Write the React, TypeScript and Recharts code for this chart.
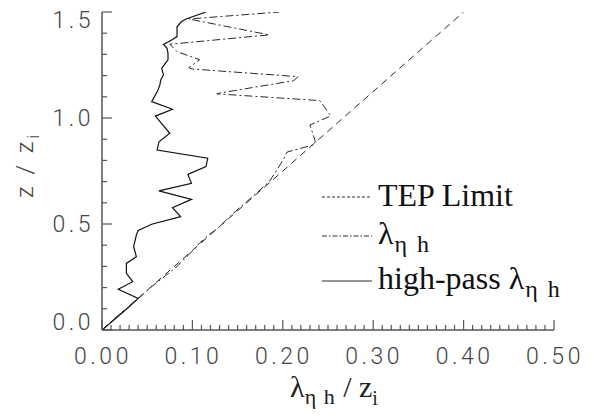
import React from 'react';
import { ComposedChart, Line, XAxis, YAxis, Label } from 'recharts';

// TEP limit line
const tepX = [0, 0.4];
const tepZ = [0, 1.5];

// lambda_eta_h (dash-dot)
const lamX = [0, 0.022, 0.03, 0.042, 0.055, 0.07, 0.083, 0.096, 0.108, 0.118, 0.128, 0.145, 0.16, 0.172, 0.185, 0.192, 0.2, 0.205, 0.234, 0.236, 0.23, 0.253, 0.241, 0.127, 0.132, 0.212, 0.217, 0.1, 0.096, 0.108, 0.083, 0.075, 0.185, 0.096, 0.196];
const lamZ = [0, 0.085, 0.11, 0.155, 0.205, 0.255, 0.3, 0.355, 0.41, 0.448, 0.48, 0.55, 0.605, 0.65, 0.7, 0.745, 0.8, 0.84, 0.873, 0.89, 0.967, 1.01, 1.082, 1.114, 1.119, 1.176, 1.195, 1.231, 1.237, 1.275, 1.313, 1.348, 1.392, 1.467, 1.5];

// high-pass lambda_eta_h (solid)
const hpX = [0, 0.025, 0.04, 0.018, 0.034, 0.027, 0.027, 0.038, 0.035, 0.038, 0.04, 0.055, 0.087, 0.078, 0.099, 0.063, 0.099, 0.095, 0.115, 0.117, 0.061, 0.063, 0.075, 0.059, 0.078, 0.055, 0.062, 0.064, 0.065, 0.068, 0.066, 0.07, 0.073, 0.073, 0.072, 0.068, 0.077, 0.083, 0.083, 0.088, 0.093, 0.115];
const hpZ = [0, 0.09, 0.149, 0.192, 0.228, 0.267, 0.314, 0.346, 0.393, 0.448, 0.47, 0.499, 0.535, 0.577, 0.616, 0.656, 0.692, 0.734, 0.771, 0.81, 0.849, 0.888, 0.928, 1.009, 1.041, 1.077, 1.132, 1.156, 1.179, 1.203, 1.234, 1.258, 1.274, 1.305, 1.329, 1.347, 1.368, 1.384, 1.43, 1.455, 1.467, 1.5];

const xMajorTicks = [0, 0.1, 0.2, 0.3, 0.4, 0.5];
const xTickLabels = ['0.00', '0.10', '0.20', '0.30', '0.40', '0.50'];
const yMajorTicks = [0, 0.5, 1.0, 1.5];
const yTickLabels = ['0.0', '0.5', '1.0', '1.5'];
const xMinorPerMajor = 10;
const yMinorPerMajor = 5;

const zip = (xs: number[], zs: number[]) => xs.map((x, i) => ({ x, z: zs[i] }));
const tepData = zip(tepX, tepZ);
const lamData = zip(lamX, lamZ);
const hpData = zip(hpX, hpZ);

const buildTicks = (majors: number[], per: number) => {
  const out: number[] = [];
  for (let i = 0; i < majors.length - 1; i++) {
    const a = majors[i];
    const b = majors[i + 1];
    for (let k = 0; k < per; k++) out.push(+(a + ((b - a) * k) / per).toFixed(4));
  }
  out.push(majors[majors.length - 1]);
  return out;
};
const xTicks = buildTicks(xMajorTicks, xMinorPerMajor);
const yTicks = buildTicks(yMajorTicks, yMinorPerMajor);

const INK = '#2a2a2a';
const AXIS = '#555';
const TICK_FONT = "Roboto, 'DejaVu Sans', sans-serif";
const SERIF = "'Liberation Serif', 'DejaVu Serif', serif";

const XTick = (props: any) => {
  const { x, y, payload } = props;
  const v = payload.value;
  const idx = xMajorTicks.findIndex((t) => Math.abs(t - v) < 1e-6);
  const major = idx >= 0;
  return (
    <g>
      <line x1={x} x2={x} y1={y} y2={y - (major ? 10 : 5)} stroke={AXIS} strokeWidth={1.2} />
      {major && (
        <text x={x + 1} y={y + 34} textAnchor="middle" fontFamily={TICK_FONT} fontWeight={300} fontSize={23} letterSpacing={3.5} fill="#444">
          {xTickLabels[idx]}
        </text>
      )}
    </g>
  );
};

// vertical nudges for y labels (top label sits below its tick, bottom label slightly above)
const yLabelShift = [0, 8, 8, 16];

const YTick = (props: any) => {
  const { x, y, payload } = props;
  const v = payload.value;
  const idx = yMajorTicks.findIndex((t) => Math.abs(t - v) < 1e-6);
  const major = idx >= 0;
  return (
    <g>
      <line x1={x} x2={x + (major ? 10 : 5)} y1={y} y2={y} stroke={AXIS} strokeWidth={1.2} />
      {major && (
        <text x={x - 8} y={y + yLabelShift[idx]} textAnchor="end" fontFamily={TICK_FONT} fontWeight={300} fontSize={23} letterSpacing={3.5} fill="#444">
          {yTickLabels[idx]}
        </text>
      )}
    </g>
  );
};

// page -> svg coords (svg sits at body margin 8,8)
const P = (v: number) => v - 8;

const Decor = () => (
  <g>
    {/* x-axis title */}
    <text x={P(334)} y={P(397)} textAnchor="middle" fontFamily={SERIF} fontSize={30} fill="#222">
      <tspan>λ</tspan>
      <tspan fontSize={22} dy={7} letterSpacing={1}>η h</tspan>
      <tspan dy={-7}> /  z</tspan>
      <tspan fontSize={20} dy={8}>i</tspan>
    </text>
    {/* y-axis title */}
    <text transform={`translate(${P(33)},${P(165)}) rotate(-90)`} textAnchor="middle" fontFamily={TICK_FONT} fontWeight={300} fontSize={24} letterSpacing={3} fill="#444">
      <tspan>z / z</tspan>
      <tspan fontSize={16} dy={6}>i</tspan>
    </text>
    {/* legend */}
    <line x1={P(322)} x2={P(372)} y1={P(197)} y2={P(197)} stroke={INK} strokeWidth={1} strokeDasharray="3 2" />
    <text x={P(378)} y={P(206)} fontFamily={SERIF} fontSize={32} fill="#111">TEP Limit</text>
    <line x1={P(322)} x2={P(372)} y1={P(236)} y2={P(236)} stroke={INK} strokeWidth={1} strokeDasharray="5 2 1.5 2" />
    <text x={P(378)} y={P(244)} fontFamily={SERIF} fontSize={32} fill="#111">
      <tspan>λ</tspan>
      <tspan fontSize={24} dy={8} dx={1} letterSpacing={2}>η h</tspan>
    </text>
    <line x1={P(322)} x2={P(372)} y1={P(281)} y2={P(281)} stroke={INK} strokeWidth={1} />
    <text x={P(378)} y={P(289)} fontFamily={SERIF} fontSize={32} fill="#111">
      <tspan>high-pass λ</tspan>
      <tspan fontSize={24} dy={8} dx={1} letterSpacing={2}>η h</tspan>
    </text>
  </g>
);

export default function App() {
  return (
    <ComposedChart width={588} height={411} margin={{ top: 4, right: 42, bottom: 0, left: 0 }}>
      <XAxis
        dataKey="x"
        type="number"
        domain={[0, 0.5]}
        ticks={xTicks}
        interval={0}
        allowDataOverflow
        height={89}
        tickSize={0}
        tickMargin={0}
        tickLine={false}
        axisLine={{ stroke: AXIS, strokeWidth: 1.5 }}
        tick={<XTick />}
      >
        <Label content={() => <Decor />} />
      </XAxis>
      <YAxis
        type="number"
        domain={[0, 1.5]}
        ticks={yTicks}
        interval={0}
        allowDataOverflow
        width={94}
        tickSize={0}
        tickMargin={0}
        tickLine={false}
        axisLine={{ stroke: AXIS, strokeWidth: 1.5 }}
        tick={<YTick />}
      />
      <Line data={tepData} dataKey="z" type="linear" stroke={INK} strokeWidth={1} strokeDasharray="7 5" dot={false} activeDot={false} isAnimationActive={false} />
      <Line data={lamData} dataKey="z" type="linear" stroke={INK} strokeWidth={1} strokeDasharray="8 3 2 3" dot={false} activeDot={false} isAnimationActive={false} />
      <Line data={hpData} dataKey="z" type="linear" stroke="#111" strokeWidth={1.2} dot={false} activeDot={false} isAnimationActive={false} />
    </ComposedChart>
  );
}
